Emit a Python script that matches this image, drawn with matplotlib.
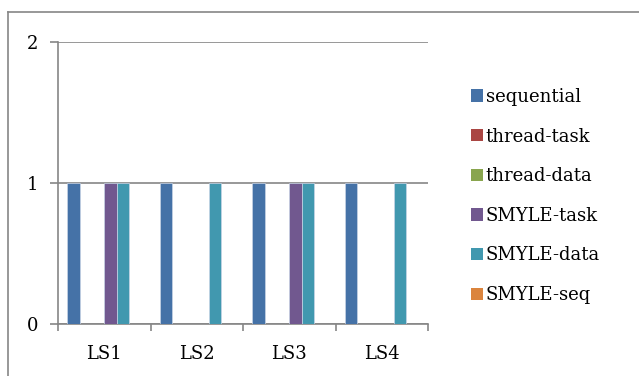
import matplotlib
matplotlib.use("Agg")
import matplotlib.pyplot as plt
from matplotlib.lines import Line2D
from matplotlib.patches import Patch
import numpy as np

# data
categories = ["LS1", "LS2", "LS3", "LS4"]
series = ["sequential", "thread-task", "thread-data", "SMYLE-task", "SMYLE-data", "SMYLE-seq"]
sequential = [1, 1, 1, 1]
thread_task = [0, 0, 0, 0]
thread_data = [0, 0, 0, 0]
smyle_task = [1, 0, 1, 0]
smyle_data = [1, 1, 1, 1]
smyle_seq = [0, 0, 0, 0]
yticks = [0, 1, 2]

colors = ["#4572a7", "#aa4643", "#89a54e", "#71588f", "#4198af", "#db843d"]
values = [sequential, thread_task, thread_data, smyle_task, smyle_data, smyle_seq]

W, H = 639, 376
plt.rcParams["font.family"] = ["DejaVu Serif"]
fig = plt.figure(figsize=(W / 100, H / 100), dpi=100)
fig.patch.set_facecolor("white")

# plot area in pixels
x0, x1 = 58, 428
y_top, y_bot = 42, 324
ax = fig.add_axes([x0 / W, 1 - y_bot / H, (x1 - x0) / W, (y_bot - y_top) / H])

bw = 1.0 / 7.5
x = np.arange(len(categories))
for i, (vals, c) in enumerate(zip(values, colors)):
    pos = x - 0.5 + 0.75 * bw + (i + 0.5) * bw
    ax.bar(pos, vals, width=bw, color=c, edgecolor="#c8d4e6", linewidth=0.5, zorder=3)

ax.set_xlim(-0.5, len(categories) - 0.5)
ax.set_ylim(0, 2)
ax.set_yticks(yticks)
ax.set_yticklabels([str(v) for v in yticks], fontsize=13)
ax.yaxis.grid(True, color="#868686", linewidth=1.2, zorder=0)
ax.set_xticks(x)
ax.set_xticklabels(categories, fontsize=13)
ax.set_xticks(np.arange(len(categories) + 1) - 0.5, minor=True)
ax.tick_params(axis="x", which="major", length=0, pad=15)
ax.tick_params(axis="x", which="minor", length=5, color="#868686", width=1.2, direction="out")
ax.tick_params(axis="y", length=6, color="#868686", width=1.2, direction="out", pad=8)

for s in ["top", "right"]:
    ax.spines[s].set_visible(False)
for s in ["left", "bottom"]:
    ax.spines[s].set_color("#868686")
    ax.spines[s].set_linewidth(1.2)

# legend
handles = [Patch(facecolor=c, edgecolor="none") for c in colors]
leg = fig.legend(handles, series, loc="center left", bbox_to_anchor=(455 / W, 1 - 196 / H),
                 frameon=False, fontsize=13, handlelength=0.65, handleheight=0.65,
                 handletextpad=0.15, labelspacing=1.2)

# outer chart border (top and left visible)
fig.add_artist(Line2D([8 / W, 1.0], [1 - 12 / H, 1 - 12 / H], color="#868686", linewidth=1.2))
fig.add_artist(Line2D([8 / W, 8 / W], [0, 1 - 12 / H], color="#868686", linewidth=1.2))

fig.savefig("out.png", dpi=100)
